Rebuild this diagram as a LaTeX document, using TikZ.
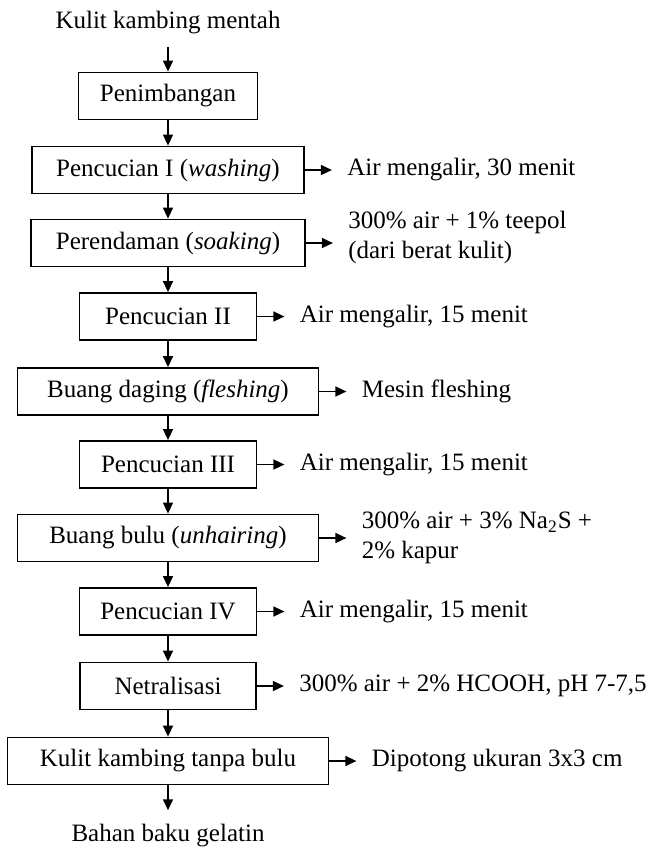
\documentclass[tikz,border=0pt]{standalone}
\usepackage{fontspec}
\setmainfont{Liberation Serif}
\usetikzlibrary{positioning,arrows.meta}
\newcommand{\flowfont}{\fontsize{12.5}{15}\selectfont}

\begin{document}
\begin{tikzpicture}[x=0.5pt, y=-0.5pt,
    box/.style={draw, rectangle, line width=0.9pt, minimum height=23.5pt, inner sep=0pt, align=center, font=\flowfont},
    note/.style={align=left, inner xsep=7.5pt, inner ysep=0pt, font=\flowfont},
    term/.style={inner xsep=0pt, inner ysep=6.5pt, font=\flowfont},
    arrow/.style={-{Triangle[length=5.5pt, width=5pt]}, line width=0.75pt},
    node distance=13.5pt
  ]
    \useasboundingbox (0,0) rectangle (651,848);

    % Main line
    \node[term, anchor=base] (mentah) at (168,28.5) {Kulit kambing mentah};
    \node[box, minimum width=89.5pt] (timbang) at (168,96) {Penimbangan};
    \node[box, minimum width=136pt] (cuci1) at (168,170) {Pencucian I (\textit{washing})};
    \node[box, minimum width=137pt] (rendam) at (168,243) {Perendaman (\textit{soaking})};
    \node[box, minimum width=88.5pt] (cuci2) at (168,316.5) {Pencucian II};
    \node[box, minimum width=150.5pt] (fleshing) at (168,391.5) {Buang daging (\textit{fleshing})};
    \node[box, minimum width=88.5pt] (cuci3) at (168,464.5) {Pencucian III};
    \node[box, minimum width=150.5pt] (unhair) at (168,538) {Buang bulu (\textit{unhairing})};
    \node[box, minimum width=88.5pt] (cuci4) at (168,611.5) {Pencucian IV};
    \node[box, minimum width=88pt] (netral) at (168,686) {Netralisasi};
    \node[box, minimum width=160.5pt] (tanpabulu) at (168,761) {Kulit kambing tanpa bulu};
    \node[term, anchor=base] (gelatin) at (168,841) {Bahan baku gelatin};

    % Side notes
    \node[note, right=of cuci1] (air1) {Air mengalir, 30 menit};
    \node[note, right=of rendam, yshift=3pt] (teepol) {300\% air + 1\% teepol\\(dari berat kulit)};
    \node[note, right=of cuci2] (air2) {Air mengalir, 15 menit};
    \node[note, right=of fleshing] (mesin) {Mesin fleshing};
    \node[note, right=of cuci3] (air3) {Air mengalir, 15 menit};
    \node[note, right=of unhair] (natrium) {300\% air + 3\% Na\textsubscript{2}S +\\2\% kapur};
    \node[note, right=of cuci4] (air4) {Air mengalir, 15 menit};
    \node[note, right=of netral] (hcooh) {300\% air + 2\% HCOOH, pH 7-7,5};
    \node[note, right=of tanpabulu] (potong) {Dipotong ukuran 3x3 cm};

    % Arrows
    \draw[arrow] (mentah) -- (timbang);
    \draw[arrow] (timbang) -- (cuci1);
    \draw[arrow] (cuci1) -- (rendam);
    \draw[arrow] (rendam) -- (cuci2);
    \draw[arrow] (cuci2) -- (fleshing);
    \draw[arrow] (fleshing) -- (cuci3);
    \draw[arrow] (cuci3) -- (unhair);
    \draw[arrow] (unhair) -- (cuci4);
    \draw[arrow] (cuci4) -- (netral);
    \draw[arrow] (netral) -- (tanpabulu);
    \draw[arrow] (tanpabulu) -- (gelatin);

    \draw[arrow] (cuci1.east) -- (cuci1.east -| air1.west);
    \draw[arrow] (rendam.east) -- (rendam.east -| teepol.west);
    \draw[arrow] (cuci2.east) -- (cuci2.east -| air2.west);
    \draw[arrow] (fleshing.east) -- (fleshing.east -| mesin.west);
    \draw[arrow] (cuci3.east) -- (cuci3.east -| air3.west);
    \draw[arrow] (unhair.east) -- (unhair.east -| natrium.west);
    \draw[arrow] (cuci4.east) -- (cuci4.east -| air4.west);
    \draw[arrow] (netral.east) -- (netral.east -| hcooh.west);
    \draw[arrow] (tanpabulu.east) -- (tanpabulu.east -| potong.west);
  \end{tikzpicture}
\end{document}
